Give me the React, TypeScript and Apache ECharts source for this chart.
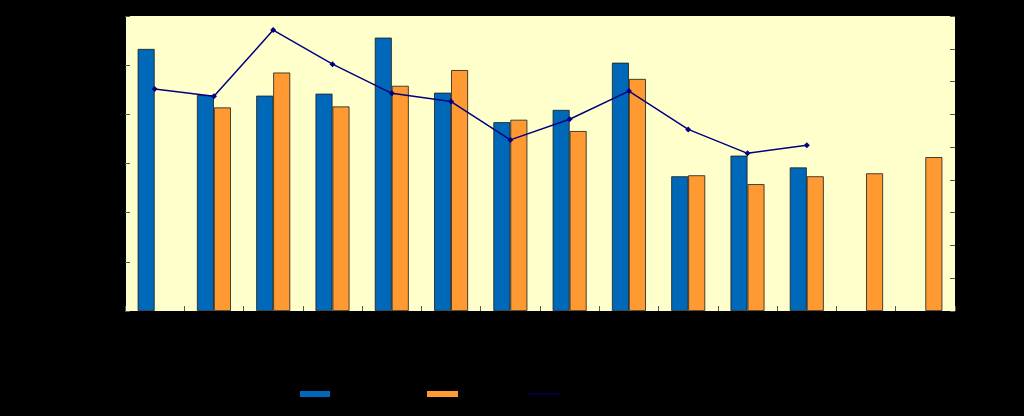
import React, { useEffect, useRef } from "react";
import * as echarts from "echarts";

const categories = ["2000", "2001", "2002", "2003", "2004", "2005", "2006", "2007", "2008", "2009", "2010", "2011", "2012", "2013"];
const seriesANames = "Series A";
const seriesBNames = "Series B";
const seriesCNames = "Ratio";
const seriesA = [53.3, 43.9, 43.8, 44.2, 55.6, 44.4, 38.4, 40.9, 50.5, 27.4, 31.6, 29.2, null, null];
const seriesB = [null, 41.4, 48.5, 41.6, 45.8, 49.0, 38.9, 36.6, 47.2, 27.6, 25.8, 27.4, 28.0, 31.3];
const seriesC = [6.77, 6.55, 8.57, 7.53, 6.64, 6.39, 5.22, 5.85, 6.71, 5.54, 4.81, 5.06, null, null];

export default function App() {
  const ref = useRef<HTMLDivElement>(null);
  useEffect(() => {
    if (!ref.current) return;
    const chart = echarts.init(ref.current, null, { renderer: "svg" });
    const black = "#000000";
    chart.setOption({
      animation: false,
      backgroundColor: "#000000",
      textStyle: { fontFamily: "Liberation Sans, Arial, sans-serif" },
      grid: {
        left: 125,
        right: 69,
        top: 16,
        bottom: 105,
        show: true,
        backgroundColor: "#FFFFCC",
        borderWidth: 0,
      },
      legend: [
        {
          data: [seriesANames],
          left: 295,
          top: 383,
          itemWidth: 30,
          itemHeight: 6,
          icon: "rect",
          itemStyle: { borderWidth: 0 },
          textStyle: { color: black, fontSize: 12 },
        },
        {
          data: [seriesBNames],
          left: 422,
          top: 383,
          itemWidth: 31,
          itemHeight: 6,
          icon: "rect",
          itemStyle: { borderWidth: 0 },
          textStyle: { color: black, fontSize: 12 },
        },
        {
          data: [{ name: seriesCNames, icon: "path://M0,0H32V1H0Z" }],
          left: 523,
          top: 383,
          itemWidth: 32,
          itemHeight: 2,
          itemStyle: { borderWidth: 0 },
          textStyle: { color: black, fontSize: 12 },
        },
      ],
      xAxis: {
        type: "category",
        data: categories,
        axisLine: { show: true, lineStyle: { color: black } },
        axisTick: { show: true, inside: true, length: 5, interval: 0, lineStyle: { color: "#555" } },
        axisLabel: { color: black, interval: 0, fontSize: 12 },
      },
      yAxis: [
        {
          type: "value",
          min: 0,
          max: 60,
          interval: 10,
          axisLine: { show: true, lineStyle: { color: black } },
          axisTick: { show: true, inside: true, length: 5, lineStyle: { color: "#555" } },
          axisLabel: { color: black, fontSize: 12 },
          splitLine: { show: false },
        },
        {
          type: "value",
          position: "right",
          min: 0,
          max: 9,
          interval: 1,
          axisLine: { show: true, lineStyle: { color: black } },
          axisTick: { show: true, inside: true, length: 5, lineStyle: { color: "#555" } },
          axisLabel: { color: black, fontSize: 12 },
          splitLine: { show: false },
        },
      ],
      series: [
        {
          name: seriesANames,
          type: "bar",
          data: seriesA,
          barGap: "0%",
          barCategoryGap: "42.7%",
          itemStyle: { color: "#0068B8", borderColor: "#1a1a1a", borderWidth: 0.8 },
        },
        {
          name: seriesBNames,
          type: "bar",
          data: seriesB,
          barGap: "0%",
          barCategoryGap: "42.7%",
          itemStyle: { color: "#FF9A33", borderColor: "#1a1a1a", borderWidth: 0.8 },
        },
        {
          name: seriesCNames,
          type: "line",
          yAxisIndex: 1,
          data: seriesC,
          symbol: "diamond",
          symbolSize: 6,
          lineStyle: { color: "#000080", width: 1.5 },
          itemStyle: { color: "#000080" },
        },
      ],
    });
    return () => chart.dispose();
  }, []);
  return <div ref={ref} style={{ position: "fixed", left: 0, top: 0, width: 1024, height: 416 }} />;
}
